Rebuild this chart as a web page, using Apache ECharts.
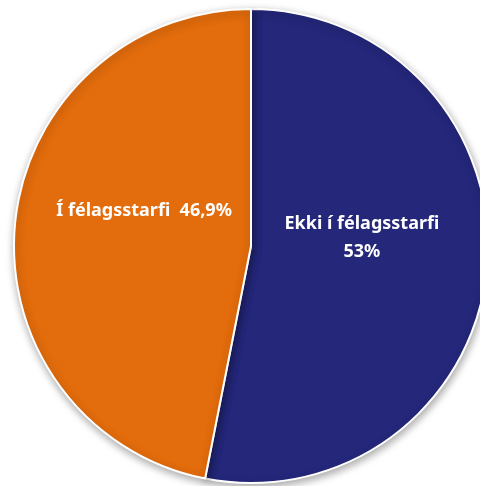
<!DOCTYPE html>
<html>
<head>
<meta charset="utf-8">
<script src="https://cdn.jsdelivr.net/npm/echarts@6/dist/echarts.min.js"></script>
<style>html,body{margin:0;padding:0;background:#fff;}#c{width:480px;height:486px;}</style>
</head>
<body>
<div id="c"></div>
<script>
const categories = ['Ekki í félagsstarfi', 'Í félagsstarfi'];
const values = [53.1, 46.9];
const valueLabels = ['53%', '46,9%'];
const colors = ['#24277A', '#E36C0C'];

const chart = echarts.init(document.getElementById('c'), null, {renderer: 'canvas'});
chart.setOption({
  animation: false,
  series: [{
    type: 'pie',
    center: [251, 246],
    radius: 237,
    startAngle: 90,
    clockwise: true,
    data: categories.map((n, i) => ({
      name: n,
      value: values[i],
      itemStyle: {color: colors[i]}
    })),
    itemStyle: {
      borderColor: '#ffffff',
      borderWidth: 2,
      shadowBlur: 8,
      shadowColor: 'rgba(0,0,0,0.35)',
      shadowOffsetX: 1,
      shadowOffsetY: 3
    },
    label: {
      show: true,
      position: 'inside',
      color: '#ffffff',
      fontFamily: 'Noto Sans',
      fontWeight: 'bold',
      fontSize: 18,
      lineHeight: 28,
      formatter: function (p) {
        return p.dataIndex === 0
          ? p.name + '\n' + valueLabels[p.dataIndex]
          : p.name + '  ' + valueLabels[p.dataIndex];
      }
    },
    labelLine: {show: false},
    labelLayout: function (p) {
      if (p.dataIndex === 0) return {dx: -10, dy: -20};
      return {dx: 14, dy: -23};
    }
  }]
});
</script>
</body>
</html>
